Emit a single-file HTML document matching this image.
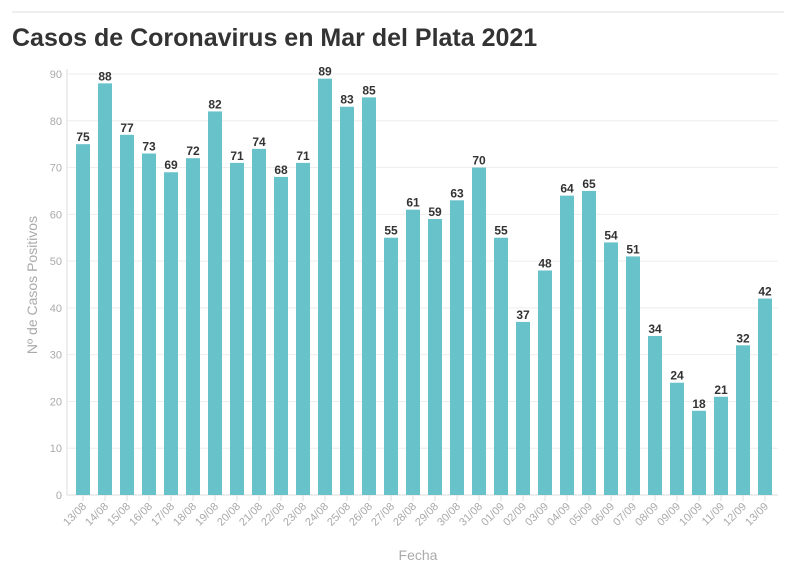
<!DOCTYPE html>
<html><head><meta charset="utf-8"><style>
body{margin:0;background:#fff;font-family:"Liberation Sans",sans-serif;}
</style></head><body>
<svg width="796" height="575" xmlns="http://www.w3.org/2000/svg">
<line x1="12" y1="12" x2="784" y2="12" stroke="#ddd"/>
<text x="12" y="46" font-size="25" font-weight="bold" fill="#333">Casos de Coronavirus en Mar del Plata 2021</text>
<g id="grid"></g><g id="bars"></g>
<text transform="translate(37,285) rotate(-90)" text-anchor="middle" font-size="14" fill="#aaa">Nº de Casos Positivos</text>
<text x="418" y="560" text-anchor="middle" font-size="14" fill="#aaa">Fecha</text>
</svg>
<script>
const categories=["13/08","14/08","15/08","16/08","17/08","18/08","19/08","20/08","21/08","22/08","23/08","24/08","25/08","26/08","27/08","28/08","29/08","30/08","31/08","01/09","02/09","03/09","04/09","05/09","06/09","07/09","08/09","09/09","10/09","11/09","12/09","13/09"];
const values=[75,88,77,73,69,72,82,71,74,68,71,89,83,85,55,61,59,63,70,55,37,48,64,65,54,51,34,24,18,21,32,42];
const yTicks=[0,10,20,30,40,50,60,70,80,90];
const NS="http://www.w3.org/2000/svg";
const x0=73,step=22,bw=14,yb=495,yt=74,ymax=90;
const y=v=>yb-(v/ymax)*(yb-yt);
const xc=i=>x0+step*i+step/2-1;
const grid=document.getElementById('grid'),bars=document.getElementById('bars');
function mk(tag,attrs,parent){const e=document.createElementNS(NS,tag);for(const k in attrs)e.setAttribute(k,attrs[k]);parent.appendChild(e);return e;}
yTicks.forEach(t=>{
 const l=mk('line',{x1:67,x2:778,y1:y(t),y2:y(t),stroke:t===0?'#ddd':'#eee'},grid);
 
 
 const tx=mk('text',{x:62,y:y(t)+4,'text-anchor':'end','font-size':11,fill:'#aaa'},grid);
 tx.textContent=t;
 
 
});
const ax=mk('line',{x1:67,x2:67,y1:yt-5,y2:yb,stroke:'#ddd'},grid);


values.forEach((v,i)=>{
 const cx=xc(i);
 const r=mk('rect',{x:cx-bw/2,y:y(v),width:bw,height:yb-y(v),fill:'#67c2ca'},bars);
 
 
 const lb=mk('text',{x:cx,y:y(v)-3,'text-anchor':'middle','font-size':12,'font-weight':'bold',fill:'#333'},bars);
 lb.textContent=v;
 
 
 const tk=mk('line',{x1:cx,x2:cx,y1:yb,y2:yb+6,stroke:'#ddd'},bars);
 
 
 const c=mk('text',{transform:`translate(${cx+4},${yb+12}) rotate(-45)`,'text-anchor':'end','font-size':11,fill:'#aaa'},bars);
 c.textContent=categories[i];
 
 
});
</script>
</body></html>
